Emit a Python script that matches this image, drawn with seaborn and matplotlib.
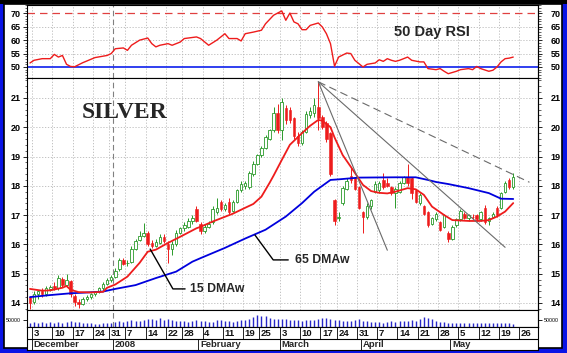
import numpy as np
import pandas as pd
import matplotlib
matplotlib.use("Agg")
import matplotlib.pyplot as plt
import seaborn as sns

# --- fechas de negociacion (sin feriados) ---
fechas = pd.bdate_range("2007-11-30", "2008-05-30")
feriados = pd.to_datetime(["2007-12-25", "2008-01-01", "2008-01-21", "2008-02-18", "2008-03-21"])
fechas = fechas[~fechas.isin(feriados)]

# --- velas (Nov 30 .. May 22), una fila por semana ---
apertura = [14.20,
            14.05, 14.30, 14.40, 14.30, 14.48,
            14.58, 14.50, 14.82, 14.60, 14.75,
            14.25, 14.05, 13.98, 14.12, 14.20,
            14.30, 14.38, 14.50, 14.65,
            14.78, 14.90, 15.15, 15.48,
            15.35, 15.40, 15.85, 16.15, 16.30,
            16.40, 16.05, 15.95, 16.05, 16.25,
            16.00, 15.85, 16.00, 16.40,
            16.55, 16.60, 16.80, 17.20, 16.70,
            16.45, 16.60, 16.75, 17.10, 17.45,
            17.20, 17.45, 17.15, 17.45,
            17.85, 18.00, 17.95, 18.40, 18.75,
            19.05, 19.30, 19.60, 19.90, 20.50,
            19.90, 20.65, 20.60, 20.30, 19.70,
            19.45, 19.85, 20.40, 20.50,
            20.70, 20.35, 20.15, 19.80, 17.50,
            16.90, 17.40, 17.90, 18.35, 18.25,
            17.95, 17.10, 16.95, 17.30, 17.80,
            17.85, 18.20, 18.10, 17.95, 17.75,
            17.80, 18.10, 18.30, 18.25, 17.85,
            17.40, 17.30, 17.10, 16.70, 16.85,
            16.75, 16.60, 16.40, 16.20, 16.65,
            16.85, 17.05, 16.90, 16.95, 17.00,
            16.85, 17.25, 16.80, 16.95, 17.25,
            17.25, 17.80, 18.20, 17.95]
maximo = [14.25,
          14.40, 14.45, 14.50, 14.58, 14.62,
          14.70, 14.95, 14.88, 15.00, 14.80,
          14.30, 14.15, 14.20, 14.28, 14.35,
          14.42, 14.55, 14.70, 14.85,
          14.95, 15.20, 15.55, 15.55,
          15.45, 15.95, 16.20, 16.45, 16.72,
          16.45, 16.15, 16.20, 16.35, 16.35,
          16.10, 16.10, 16.50, 16.60,
          16.75, 16.90, 17.00, 17.30, 16.75,
          16.70, 16.80, 17.30, 17.60, 17.50,
          17.40, 17.60, 17.50, 17.90,
          18.15, 18.15, 18.50, 18.85, 19.10,
          19.35, 19.75, 19.95, 20.70, 20.80,
          21.00, 20.75, 20.70, 20.35, 19.85,
          19.90, 20.55, 20.70, 21.00,
          21.55, 20.40, 20.20, 19.85, 17.55,
          17.10, 17.98, 18.25, 18.60, 18.30,
          18.00, 17.15, 17.40, 17.55, 18.15,
          18.15, 18.45, 18.25, 18.00, 17.95,
          18.15, 18.35, 18.75, 18.30, 17.90,
          17.75, 17.35, 17.15, 16.95, 17.10,
          16.80, 17.05, 16.45, 16.65, 16.90,
          17.20, 17.10, 17.05, 17.05, 17.05,
          17.15, 17.35, 16.95, 17.10, 17.30,
          17.80, 18.15, 18.25, 18.45]
minimo = [13.78,
          13.95, 14.15, 14.20, 14.25, 14.40,
          14.45, 14.45, 14.55, 14.55, 14.20,
          13.90, 13.82, 13.92, 14.08, 14.15,
          14.25, 14.35, 14.45, 14.60,
          14.72, 14.85, 15.10, 15.28,
          15.25, 15.35, 15.80, 16.10, 16.25,
          15.95, 15.88, 15.90, 16.00, 16.05,
          15.35, 15.65, 15.95, 16.35,
          16.45, 16.55, 16.70, 16.75, 16.35,
          16.40, 16.55, 16.70, 17.05, 17.15,
          17.15, 17.05, 17.10, 17.40,
          17.80, 17.90, 17.90, 18.35, 18.70,
          19.00, 19.25, 19.55, 19.85, 19.80,
          19.55, 20.10, 20.15, 19.60, 19.35,
          19.40, 19.80, 20.30, 20.35,
          19.90, 19.95, 19.50, 18.35, 16.65,
          16.80, 17.35, 17.85, 18.10, 17.85,
          17.20, 16.40, 16.85, 17.20, 17.75,
          17.75, 17.90, 17.95, 17.70, 17.25,
          17.75, 18.05, 18.00, 17.55, 17.40,
          17.35, 17.00, 16.60, 16.65, 16.80,
          16.45, 16.55, 16.08, 16.15, 16.60,
          16.80, 16.85, 16.80, 16.85, 16.80,
          16.80, 16.70, 16.65, 16.90, 16.95,
          17.20, 17.75, 17.90, 17.90]
cierre = [14.00,
          14.32, 14.40, 14.30, 14.50, 14.55,
          14.50, 14.85, 14.62, 14.78, 14.30,
          14.05, 13.95, 14.15, 14.22, 14.30,
          14.38, 14.50, 14.65, 14.80,
          14.90, 15.10, 15.45, 15.32,
          15.38, 15.85, 16.12, 16.30, 16.40,
          16.00, 15.95, 16.08, 16.25, 16.12,
          15.85, 16.00, 16.40, 16.55,
          16.65, 16.80, 16.90, 16.80, 16.45,
          16.60, 16.70, 17.20, 17.25, 17.20,
          17.35, 17.10, 17.45, 17.85,
          18.05, 18.10, 18.45, 18.75, 19.05,
          19.30, 19.65, 19.90, 20.50, 19.90,
          20.85, 20.25, 20.25, 19.70, 19.45,
          19.85, 20.45, 20.55, 20.75,
          20.30, 20.00, 19.60, 18.40, 16.80,
          16.95, 17.92, 18.15, 18.20, 17.90,
          17.25, 16.95, 17.30, 17.50, 18.05,
          18.10, 17.95, 18.00, 17.75, 17.90,
          18.10, 18.30, 18.10, 17.75, 17.45,
          17.70, 17.05, 16.65, 16.90, 17.05,
          16.50, 17.00, 16.20, 16.60, 16.85,
          17.15, 16.90, 17.00, 16.92, 16.85,
          17.10, 16.75, 16.90, 17.05, 17.00,
          17.75, 18.10, 17.95, 18.30]
volumen = [28, 35, 30, 33, 28, 36, 30, 38, 32, 35, 42,
           38, 33, 30, 28, 30, 22, 20, 25, 28,
           30, 36, 40, 35, 42, 48, 45, 40, 52,
           55, 60, 50, 62, 48, 58, 50, 45, 40,
           42, 38, 45, 50, 44, 40, 38, 35, 48, 52,
           45, 40, 38, 42, 48, 50, 55, 70, 85,
           80, 75, 62, 55, 60, 58, 55, 52, 50,
           48, 45, 50, 48, 52, 55, 65, 62, 58, 50,
           48, 40, 42, 45, 50, 55, 45, 40, 38, 35,
           35, 32, 38, 40, 36, 42, 45, 40, 48, 45,
           60, 68, 62, 55, 45, 38, 35, 30, 32, 28,
           30, 28, 25, 28, 30, 26, 28, 25, 30, 28, 30, 28, 26, 24]
volumen = [v * 1000 for v in volumen]

# medias moviles ponderadas (dia, valor)
ma15_dia = [0, 3, 5, 8, 9, 10, 12, 15, 18, 19, 21, 24, 27, 29, 31, 34, 37, 41, 42, 45,
            50, 53, 55, 57, 59, 60, 62, 64, 67, 69, 71, 72, 74, 75, 77, 79, 82, 84, 86,
            88, 90, 93, 95, 97, 99, 102, 104, 108, 111, 113, 115, 117, 119]
ma15_val = [14.48, 14.42, 14.43, 14.52, 14.58, 14.45, 14.37, 14.36, 14.38, 14.52, 14.63,
            14.90, 15.37, 15.75, 15.82, 16.05, 16.26, 16.55, 16.60, 16.78, 17.05, 17.25,
            17.38, 17.63, 18.10, 18.35, 18.88, 19.40, 19.80, 20.05, 20.25, 20.22, 20.00,
            19.65, 19.05, 18.65, 18.03, 17.82, 17.76, 17.74, 17.80, 17.92, 17.88, 17.69,
            17.29, 17.00, 16.83, 16.80, 16.80, 16.83, 16.95, 17.12, 17.41]
ma65_dia = [0, 5, 10, 13, 18, 21, 26, 31, 36, 40, 42, 48, 53, 58, 63, 67, 70, 74, 76, 81,
            90, 95, 98, 100, 103, 108, 113, 116, 119]
ma65_val = [14.20, 14.27, 14.33, 14.35, 14.39, 14.48, 14.61, 14.85, 15.07, 15.41, 15.53,
            15.88, 16.20, 16.50, 16.95, 17.41, 17.80, 18.20, 18.22, 18.28, 18.29, 18.29,
            18.20, 18.13, 18.06, 17.92, 17.75, 17.56, 17.55]

# RSI de 50 dias
rsi_dia = [0, 1, 3, 5, 6, 7, 8, 9, 10, 11, 13, 16, 19, 20, 21, 23, 24, 25, 27, 29, 30, 31,
           32, 34, 35, 37, 38, 41, 42, 44, 46, 48, 49, 51, 52, 53, 55, 57, 58, 60, 62, 63,
           64, 65, 66, 67, 68, 69, 71, 72, 73, 74, 75, 76, 78, 79, 80, 82, 83, 85, 86, 87,
           88, 89, 90, 91, 93, 94, 96, 97, 98, 100, 101, 102, 103, 105, 106, 108, 109, 110,
           111, 113, 114, 115, 116, 117, 118, 119]
rsi_val = [51.5, 52.5, 53.1, 53.1, 54.7, 53.7, 54.3, 51.0, 50.2, 50.1, 51.6, 53.5, 54.3,
           55.0, 56.8, 57.1, 56.2, 58.1, 60.0, 60.8, 58.7, 57.5, 58.1, 58.7, 58.1, 59.3,
           60.6, 61.2, 60.6, 58.1, 60.0, 62.4, 60.6, 60.6, 59.7, 62.4, 63.0, 63.7, 66.1,
           69.3, 70.9, 67.4, 70.1, 66.8, 66.1, 63.9, 63.9, 65.5, 66.4, 64.9, 62.4, 58.7,
           50.3, 53.7, 55.2, 55.0, 52.5, 50.0, 51.0, 51.5, 52.7, 52.1, 53.1, 52.5, 52.1,
           52.5, 53.7, 52.5, 51.9, 51.9, 49.4, 49.0, 49.4, 48.4, 47.5, 48.4, 49.0, 49.4,
           49.0, 50.2, 49.4, 48.4, 48.8, 50.0, 51.9, 53.1, 53.3, 53.7]

# lineas de tendencia desde el maximo de marzo
pico = (71, 21.55)
tend_fin_dia = [88, 117, 123]
tend_fin_val = [15.80, 15.90, 18.12]

precios_ticks = [14, 15, 16, 17, 18, 19, 20, 21]
rsi_ticks = [50, 55, 60, 65, 70]

# --- estilo ---
sns.set_theme(style="white")
plt.rcParams["font.family"] = ["Liberation Sans", "DejaVu Sans"]

AZUL = "#0000dd"
ROJO = "#ee1c1c"
VERDE = "#2a9a2a"
GRIS = "#b8b8b8"

W, H = 567, 353
fig = plt.figure(figsize=(W / 100, H / 100), dpi=100)
fig.patch.set_facecolor("#0a14e6")
fig.add_artist(plt.Rectangle((4 / W, 5 / H), 558 / W, 344 / H, transform=fig.transFigure,
                             facecolor="white", edgecolor="black", lw=1.2, zorder=0))
fig.add_artist(plt.Rectangle((0, 1 - 4 / H), 1, 4 / H, transform=fig.transFigure,
                             facecolor="black", edgecolor="none", zorder=0))


def caja(x0, y0, x1, y1):
    return fig.add_axes([x0 / W, 1 - y1 / H, (x1 - x0) / W, (y1 - y0) / H])


ax_r = caja(27, 5, 538, 78)
ax_p = caja(27, 78, 538, 310)
ax_v = caja(27, 310, 538, 327)
ax_f = caja(27, 327, 538, 350)

x = np.arange(len(cierre))
xlim = (-0.73, 125.1)

# semanas y meses
semana = fechas.to_period("W")
ini_sem = [i for i in range(len(fechas)) if i == 0 or semana[i] != semana[i - 1]][1:]
ini_mes = [i for i in range(len(fechas)) if i == 0 or fechas[i].month != fechas[i - 1].month][1:]
ini_sem = [i for i in ini_sem if i - 0.5 < xlim[1]]
ini_mes = [i for i in ini_mes if i - 0.5 < xlim[1]]
pos_anio = [i for i in ini_mes if fechas[i].month == 1][0]

for ax in (ax_r, ax_p, ax_v, ax_f):
    ax.set_xlim(*xlim)
    ax.set_facecolor("white")
    for s in ax.spines.values():
        s.set_color("black")
        s.set_linewidth(0.8)
    ax.set_xticks([])

for ax in (ax_r, ax_p):
    for i in ini_sem:
        ax.axvline(i - 0.5, color=GRIS, lw=0.6, ls=(0, (1.5, 2)), zorder=0)
for ax in (ax_r, ax_p, ax_v):
    ax.axvline(pos_anio - 0.5, color="#808080", lw=0.8, ls=(0, (5, 3)), zorder=1)


def ejes_y(ax, ticks, menor, lims, tam=6.5, pad_der=6):
    ax.set_ylim(*lims)
    ax.set_yticks(ticks)
    ax.set_yticks(menor, minor=True)
    ax.tick_params(axis="y", which="major", length=3, width=0.6, pad=1.5, labelsize=tam,
                   colors="black", left=True)
    ax.tick_params(axis="y", which="minor", length=1.8, width=0.5, left=True)
    der = ax.secondary_yaxis("right")
    der.set_yticks(ticks)
    der.set_yticks(menor, minor=True)
    der.tick_params(axis="y", which="major", length=3, width=0.6, pad=pad_der, labelsize=tam,
                    colors="black")
    der.tick_params(axis="y", which="minor", length=1.8, width=0.5)
    der.spines["right"].set_linewidth(0.8)
    peso = "bold" if tam > 5 else "normal"
    for t in list(ax.get_yticklabels()) + list(der.get_yticklabels()):
        t.set_fontweight(peso)


# --- panel RSI ---
ejes_y(ax_r, rsi_ticks, np.arange(46, 74, 1), (45.9, 73.1))
for v in (55, 60, 65):
    ax_r.axhline(v, color=GRIS, lw=0.6, ls=(0, (1.5, 2)), zorder=0)
ax_r.axhline(70, color="#e04040", lw=0.9, ls=(0, (6, 4)), zorder=1)
ax_r.axhline(50, color="#2030ee", lw=1.3, zorder=1)
sns.lineplot(x=rsi_dia, y=rsi_val, ax=ax_r, color=ROJO, lw=1.0, zorder=3)
ax_r.text(99, 63.1, "50 Day RSI", ha="center", va="center", fontsize=10.5, fontweight="bold")
ax_r.set_xlabel("")
ax_r.set_ylabel("")

# --- panel de precios ---
ejes_y(ax_p, precios_ticks, np.arange(13.8, 21.7, 0.2), (13.76, 21.68))
for v in precios_ticks:
    ax_p.axhline(v, color=GRIS, lw=0.6, ls=(0, (1.5, 2)), zorder=0)

o = np.array(apertura)
c = np.array(cierre)
sube = c >= o
col = np.where(sube, VERDE, ROJO)
ax_p.vlines(x, minimo, maximo, colors=col, lw=0.7, zorder=3)
ax_p.bar(x[sube], (c - o)[sube], bottom=o[sube], width=0.62, facecolor="white",
         edgecolor=VERDE, lw=0.6, zorder=4)
ax_p.bar(x[~sube], (o - c)[~sube], bottom=c[~sube], width=0.62, facecolor=ROJO,
         edgecolor=ROJO, lw=0.4, zorder=4)

sns.lineplot(x=ma65_dia, y=ma65_val, ax=ax_p, color=AZUL, lw=1.3, zorder=5)
sns.lineplot(x=ma15_dia, y=ma15_val, ax=ax_p, color=ROJO, lw=1.3, zorder=6)
ax_p.set_xlabel("")
ax_p.set_ylabel("")

for k, (xd, yd) in enumerate(zip(tend_fin_dia, tend_fin_val)):
    ax_p.plot([pico[0], xd], [pico[1], yd], color="#6a6a6a", lw=0.8,
              ls=(0, (7, 4)) if k == 2 else "-", zorder=7)

ax_p.plot([29.6, 35.2, 38.2], [15.84, 14.48, 14.48], color="black", lw=1.0, zorder=8)
ax_p.text(39.3, 14.47, "15 DMAw", ha="left", va="center", fontsize=8.8, fontweight="bold")
ax_p.plot([55.4, 59.9, 63.6], [16.32, 15.47, 15.47], color="black", lw=1.0, zorder=8)
ax_p.text(65.2, 15.47, "65 DMAw", ha="left", va="center", fontsize=8.8, fontweight="bold")
ax_p.text(23.2, 20.5, "SILVER", ha="center", va="center", fontsize=17, fontweight="bold",
          family=["Liberation Serif", "DejaVu Serif"])

# --- volumen ---
ax_v.vlines(x, 0, volumen, color="#2828c8", lw=1.0, zorder=3)
ejes_y(ax_v, [50000], [], (0, 121000), tam=3.8, pad_der=1)

# --- fila de fechas ---
ax_f.set_ylim(0, 2)
ax_f.set_yticks([])
ax_f.axhline(1, color="black", lw=0.8)
for i in ini_sem:
    ax_f.plot([i - 0.5, i - 0.5], [1, 2], color="black", lw=0.6)
    ax_f.text(i - 0.1, 1.45, str(fechas[i].day), ha="left", va="center", fontsize=6.8,
              fontweight="bold", color="#111111")
for i in ini_mes:
    ax_f.plot([i - 0.5, i - 0.5], [0, 1], color="black", lw=0.6)
    etiqueta = "2008" if fechas[i].month == 1 else fechas[i].strftime("%B")
    ax_f.text(i - 0.1, 0.45, etiqueta, ha="left", va="center", fontsize=6.8, fontweight="bold")

fig.savefig("out.png", dpi=100, facecolor=fig.get_facecolor())
